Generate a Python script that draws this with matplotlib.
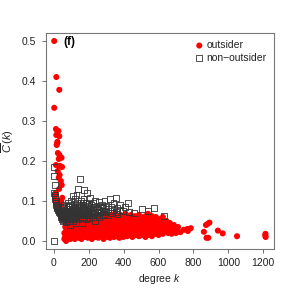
import matplotlib
matplotlib.use("Agg")
import matplotlib.pyplot as plt

plt.rcParams['font.family'] = ['Liberation Sans', 'DejaVu Sans']
plt.rcParams['mathtext.fontset'] = 'custom'
plt.rcParams['mathtext.rm'] = 'Liberation Sans'
plt.rcParams['mathtext.it'] = 'Liberation Sans:italic'

# outsider nodes: degree k and clustering C(k)
out_k = [2, 14, 31, 2, 12, 20, 26, 14, 31, 20, 16, 20, 23, 32, 44, 28, 12, 35, 47, 22,
         33, 28, 40, 45, 30, 10, 48, 42, 5, 8, 15, 38,
         18, 22, 28, 35, 40, 50, 55, 45,
         60, 60, 65, 65, 65, 70, 70, 70, 75, 75, 75, 80, 80, 80, 88, 88, 88, 95, 95, 95,
         100, 100, 100, 100, 108, 108, 108, 115, 115, 115, 120, 120, 120, 128, 128, 128, 128,
         135, 135, 135, 142, 142, 142, 150, 150, 150, 150, 158, 158, 158, 158, 165, 165, 165,
         172, 172, 172, 180, 180, 180, 180, 188, 188, 188, 195, 195, 195, 202, 202, 202, 202,
         210, 210, 210, 218, 218, 218, 225, 225, 225, 225, 232, 232, 232, 240, 240, 240, 240,
         248, 248, 248, 255, 255, 255, 255, 262, 262, 262, 270, 270, 270, 270, 278, 278, 278,
         285, 285, 285, 285, 292, 292, 292, 300, 300, 300, 300, 308, 308, 308, 315, 315, 315,
         322, 322, 322, 322, 330, 330, 330, 330, 338, 338, 338, 345, 345, 345, 352, 352, 352, 352,
         360, 360, 360, 360, 368, 368, 368, 375, 375, 375, 383, 383, 383, 383, 390, 390, 390,
         398, 398, 398, 398, 405, 405, 405, 412, 412, 412, 420, 420, 420, 428, 428, 428,
         435, 435, 435, 442, 442, 442, 442, 450, 450, 450, 458, 458, 458, 465, 465, 465,
         472, 472, 472, 480, 480, 480, 488, 488, 488, 488, 495, 495, 495, 502, 502, 502,
         510, 510, 510, 518, 518, 518, 525, 525, 525, 532, 532, 532, 540, 540, 540, 540,
         548, 548, 548, 555, 555, 555, 562, 562, 562, 570, 570, 570, 578, 578, 585, 585, 585,
         592, 592, 600, 600, 600, 610, 610, 610, 618, 618, 625, 625, 625, 635, 635, 645, 645,
         655, 655, 665, 665, 675, 675, 688, 688, 700, 700, 712, 725, 745,
         765, 768, 785, 860, 872, 882, 892, 875, 885, 940, 968, 1050, 1213, 1214, 1212]
out_c = [0.50, 0.41, 0.378, 0.333, 0.28, 0.275, 0.275, 0.265, 0.262, 0.248, 0.24, 0.245, 0.22, 0.215, 0.208, 0.205, 0.19, 0.188, 0.185, 0.175,
         0.165, 0.158, 0.15, 0.14, 0.13, 0.12, 0.108, 0.10, 0.115, 0.105, 0.095, 0.09,
         0.095, 0.085, 0.08, 0.075, 0.07, 0.065, 0.06, 0.055,
         0.005, 0.02, 0.012, 0.035, 0.05, 0.0, 0.025, 0.045, 0.015, 0.04, 0.055, 0.008, 0.03, 0.05, 0.02, 0.038, 0.058, 0.005, 0.028, 0.045,
         0.015, 0.035, 0.052, 0.062, 0.01, 0.025, 0.042, 0.03, 0.048, 0.058, 0.005, 0.018, 0.038, 0.012, 0.028, 0.05, 0.06,
         0.02, 0.035, 0.045, 0.008, 0.03, 0.055, 0.015, 0.025, 0.04, 0.05, 0.005, 0.022, 0.035, 0.06, 0.012, 0.03, 0.045,
         0.02, 0.038, 0.055, 0.01, 0.028, 0.042, 0.062, 0.018, 0.035, 0.05, 0.008, 0.025, 0.045, 0.015, 0.032, 0.055, 0.065,
         0.02, 0.04, 0.05, 0.005, 0.028, 0.038, 0.012, 0.03, 0.045, 0.06, 0.02, 0.035, 0.052, 0.01, 0.025, 0.042, 0.058,
         0.018, 0.03, 0.048, 0.008, 0.038, 0.055, 0.065, 0.022, 0.032, 0.045, 0.012, 0.028, 0.04, 0.06, 0.018, 0.035, 0.05,
         0.005, 0.025, 0.045, 0.062, 0.015, 0.032, 0.055, 0.02, 0.04, 0.05, 0.068, 0.01, 0.028, 0.045, 0.018, 0.035, 0.06,
         0.008, 0.025, 0.042, 0.052, 0.015, 0.032, 0.048, 0.065, 0.02, 0.038, 0.055, 0.01, 0.028, 0.045, 0.018, 0.035, 0.06, 0.07,
         0.012, 0.025, 0.042, 0.052, 0.02, 0.032, 0.048, 0.008, 0.04, 0.058, 0.015, 0.028, 0.045, 0.065, 0.022, 0.035, 0.05,
         0.01, 0.03, 0.042, 0.06, 0.018, 0.038, 0.055, 0.025, 0.045, 0.068, 0.012, 0.032, 0.05, 0.02, 0.04, 0.058,
         0.015, 0.028, 0.045, 0.022, 0.035, 0.052, 0.065, 0.01, 0.03, 0.042, 0.018, 0.038, 0.055, 0.025, 0.048, 0.062,
         0.015, 0.032, 0.042, 0.02, 0.035, 0.055, 0.012, 0.028, 0.045, 0.065, 0.022, 0.038, 0.05, 0.015, 0.03, 0.06,
         0.025, 0.042, 0.055, 0.018, 0.035, 0.048, 0.01, 0.028, 0.062, 0.022, 0.04, 0.052, 0.015, 0.032, 0.045, 0.068,
         0.025, 0.038, 0.058, 0.018, 0.03, 0.05, 0.012, 0.042, 0.062, 0.022, 0.035, 0.055, 0.028, 0.045, 0.018, 0.038, 0.06,
         0.025, 0.05, 0.015, 0.032, 0.045, 0.022, 0.04, 0.055, 0.028, 0.048, 0.018, 0.035, 0.06, 0.025, 0.045, 0.03, 0.05,
         0.02, 0.038, 0.028, 0.045, 0.018, 0.035, 0.025, 0.04, 0.03, 0.02, 0.035, 0.022, 0.028,
         0.03, 0.025, 0.032, 0.023, 0.04, 0.043, 0.046, 0.008, 0.008, 0.026, 0.019, 0.012, 0.018, 0.01, 0.014]

# non-outsider nodes
non_k = [0, 3, 3, 5, 3, 5, 6, 8, 10, 12, 14, 16, 18, 20, 22, 25, 28, 30, 34, 38,
         42, 46, 50, 55, 60, 65, 70, 80,
         40, 40, 45, 45, 45, 50, 50, 50, 55, 55, 55, 60, 60, 60, 65, 65, 70, 70, 70,
         75, 75, 75, 80, 80, 80, 85, 85, 85, 90, 90, 90, 95, 95, 95, 100, 100, 100,
         105, 105, 105, 110, 110, 110, 115, 115, 115, 120, 120, 120, 125, 125, 125,
         130, 130, 130, 135, 135, 135, 140, 140, 140, 145, 145, 145, 150, 150, 150,
         155, 155, 155, 160, 160, 160, 165, 165, 165, 170, 170, 170, 175, 175, 175,
         180, 180, 185, 185, 185, 190, 190, 190, 195, 195, 200, 200, 200, 208, 208, 208,
         215, 215, 222, 222, 222, 230, 230, 238, 238, 238, 245, 245, 252, 252,
         260, 260, 260, 268, 268, 275, 275, 282, 282, 290, 290, 300, 300, 310, 310,
         320, 320, 330, 330, 342, 342, 355, 355, 365, 365, 380, 380, 395, 410, 425, 432,
         460, 505, 540, 575, 632]
non_c = [0.0, 0.185, 0.162, 0.14, 0.12, 0.115, 0.11, 0.105, 0.10, 0.095, 0.09, 0.088, 0.085, 0.082, 0.08, 0.078, 0.075, 0.072, 0.07, 0.068,
         0.066, 0.064, 0.062, 0.06, 0.058, 0.062, 0.057, 0.06,
         0.06, 0.075, 0.055, 0.07, 0.085, 0.05, 0.065, 0.078, 0.058, 0.072, 0.09, 0.052, 0.068, 0.082, 0.06, 0.075, 0.048, 0.065, 0.088,
         0.055, 0.07, 0.08, 0.062, 0.076, 0.095, 0.05, 0.068, 0.085, 0.058, 0.072, 0.04, 0.065, 0.08, 0.09, 0.055, 0.07, 0.10,
         0.06, 0.078, 0.088, 0.05, 0.068, 0.112, 0.062, 0.075, 0.092, 0.058, 0.082, 0.105, 0.065, 0.072, 0.045,
         0.06, 0.078, 0.115, 0.07, 0.085, 0.095, 0.055, 0.075, 0.13, 0.065, 0.082, 0.09, 0.06, 0.072, 0.155,
         0.068, 0.088, 0.10, 0.058, 0.078, 0.045, 0.065, 0.082, 0.095, 0.072, 0.09, 0.105, 0.06, 0.078, 0.128,
         0.068, 0.085, 0.055, 0.075, 0.095, 0.065, 0.08, 0.12, 0.07, 0.088, 0.058, 0.075, 0.092, 0.065, 0.082, 0.108,
         0.07, 0.09, 0.06, 0.078, 0.095, 0.068, 0.085, 0.072, 0.10, 0.05, 0.065, 0.08, 0.07, 0.088,
         0.06, 0.078, 0.098, 0.072, 0.085, 0.065, 0.09, 0.075, 0.082, 0.068, 0.10, 0.072, 0.088, 0.08, 0.065,
         0.075, 0.105, 0.07, 0.085, 0.078, 0.095, 0.072, 0.107, 0.082, 0.068, 0.078, 0.09, 0.075, 0.085, 0.095, 0.073,
         0.07, 0.08, 0.076, 0.083, 0.062]

fig = plt.figure(figsize=(2.91, 2.91), dpi=100)
ax = fig.add_axes([45.5 / 291, 42 / 291, 228.5 / 291, 216 / 291])

ax.scatter(out_k, out_c, s=19, c='#ff0000', edgecolors='none', label='outsider', zorder=2)
ax.scatter(non_k, non_c, s=18, marker='s', facecolors='none', edgecolors='#333333',
           linewidths=0.6, label='non\u2212outsider', zorder=3)

ax.set_xlim(-48, 1262)
ax.set_ylim(-0.02, 0.52)
ax.set_xticks([0, 200, 400, 600, 800, 1000, 1200])
ax.set_yticks([0.0, 0.1, 0.2, 0.3, 0.4, 0.5])
ax.set_yticklabels(['0.0', '0.1', '0.2', '0.3', '0.4', '0.5'])
ax.tick_params(labelsize=7.5, length=3, width=0.6, color='#555555', labelcolor='#222222', pad=3.5)
for sp in ax.spines.values():
    sp.set_color('#777777')
    sp.set_linewidth(0.8)

ax.set_xlabel('degree $k$', fontsize=7.5, color='#222222', labelpad=3)
ax.set_ylabel(r'$\overline{C}\,(k)$', fontsize=8, color='#222222', labelpad=4)
ax.text(0.08, 0.985, '(f)', transform=ax.transAxes, fontsize=8.5, fontweight='bold',
        va='top', ha='left')

ax.legend(loc='upper right', frameon=False, fontsize=7.5, handletextpad=0.2,
          borderaxespad=0.5, labelspacing=0.25, handlelength=1.0, borderpad=0.2,
          labelcolor='#222222')

fig.savefig('out.png', dpi=100)
